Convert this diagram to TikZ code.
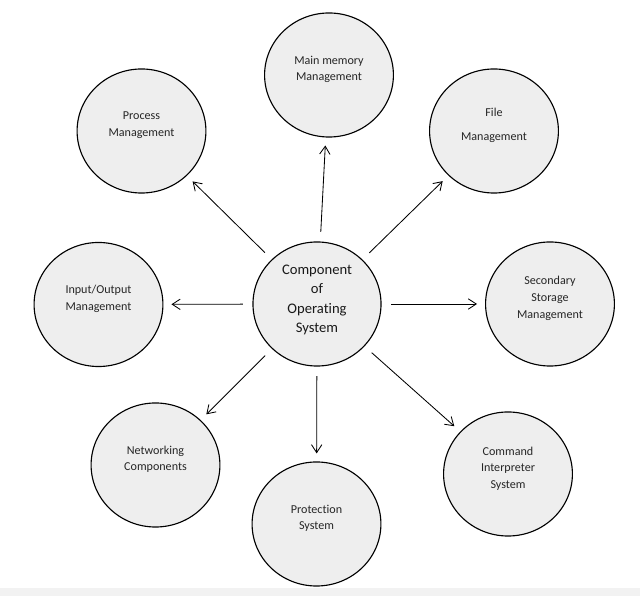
\documentclass[tikz,border=0pt]{standalone}
\usepackage{fontspec}
\setmainfont{Carlito}[Ligatures={NoCommon, NoRequired, NoContextual}, Contextuals=NoAlternate]
\usetikzlibrary{arrows.meta, shapes.geometric}
\definecolor{partgray}{HTML}{EEEEEE}
\definecolor{stripgray}{HTML}{F2F2F2}

\begin{document}
\begin{tikzpicture}[
    x=0.025cm, y=-0.025cm,
    part/.style={draw, ellipse, line width=0.8pt, fill=partgray, minimum width=3.22cm, minimum height=3.1cm, inner sep=0pt},
    partlabel/.style={align=center, text=black!85, font=\fontsize{8.6}{11.8}\selectfont, yshift=0.14cm},
    corelabel/.style={align=center, text=black!90, font=\fontsize{10.4}{13.7}\selectfont, yshift=0.1cm},
    arr/.style={-{Straight Barb[length=2mm, width=2.6mm]}, line width=0.6pt, shorten <=0.24cm, shorten >=0.2cm}
]
\useasboundingbox (0,0) rectangle (640,596);
\fill[stripgray] (0,588) rectangle (640,596);

\node[part, minimum width=3.2cm, label={[corelabel]center:{Component\\of\\Operating\\System}}] (core) at (317,304) {};
\node[part, label={[partlabel]center:{Main memory\\Management}}] (mem) at (329,75) {};
\node[part, label={[partlabel]center:{Process\\Management}}] (proc) at (141.5,131) {};
\node[part, label={[partlabel]center:{File\\[5.5pt]Management}}] (file) at (494,131) {};
\node[part, label={[partlabel]center:{Input/Output\\Management}}] (io) at (98.5,304.5) {};
\node[part, label={[partlabel]center:{Secondary\\Storage\\Management}}] (store) at (550,304) {};
\node[part, label={[partlabel]center:{Networking\\Components}}] (net) at (155.5,465) {};
\node[part, label={[partlabel]center:{Protection\\System}}] (prot) at (316.5,524) {};
\node[part, label={[partlabel]center:{Command\\Interpreter\\System}}] (cmd) at (508,474) {};

\draw[arr] (core) -- (mem);
\draw[arr] (core) -- (proc);
\draw[arr] (core) -- (file);
\draw[arr] (core) -- (io);
\draw[arr] (core) -- (store);
\draw[arr] (core) -- (net);
\draw[arr] (core) -- (prot);
\draw[arr] (core) -- (cmd);
\end{tikzpicture}
\end{document}
